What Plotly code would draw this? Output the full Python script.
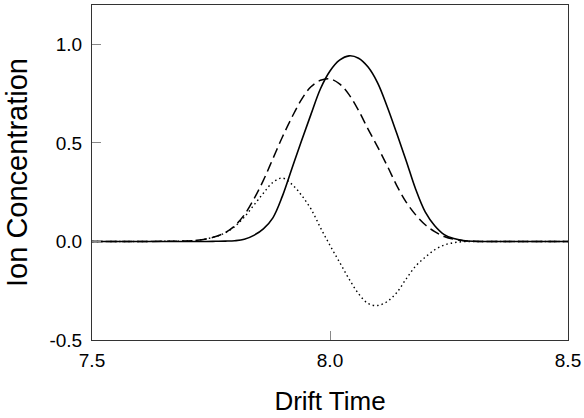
import plotly.graph_objects as go

drift_time = [7.50, 7.60, 7.66, 7.70, 7.72, 7.74, 7.76, 7.78, 7.80, 7.82, 7.84, 7.86, 7.88,
              7.90, 7.92, 7.94, 7.96, 7.98, 8.00, 8.02, 8.04, 8.06, 8.08, 8.10, 8.12, 8.14,
              8.16, 8.18, 8.20, 8.22, 8.24, 8.26, 8.28, 8.30, 8.34, 8.40, 8.50]

solid_conc = [0, 0, 0, 0, 0, 0, 0.001, 0.002, 0.004, 0.011, 0.031, 0.064, 0.12,
              0.23, 0.37, 0.51, 0.645, 0.775, 0.865, 0.92, 0.942, 0.93, 0.885, 0.805, 0.685, 0.55,
              0.41, 0.265, 0.15, 0.08, 0.035, 0.015, 0.005, 0.001, 0, 0, 0]

dashed_conc = [0, 0, 0.001, 0.003, 0.006, 0.013, 0.025, 0.045, 0.08, 0.135, 0.215, 0.31, 0.42,
               0.53, 0.63, 0.72, 0.785, 0.818, 0.825, 0.80, 0.745, 0.665, 0.57, 0.48, 0.385, 0.285,
               0.2, 0.135, 0.085, 0.05, 0.025, 0.011, 0.004, 0.001, 0, 0, 0]

dotted_conc = [0, 0, 0.001, 0.003, 0.006, 0.013, 0.025, 0.044, 0.076, 0.124, 0.184, 0.245, 0.30,
               0.322, 0.29, 0.235, 0.165, 0.07, -0.02, -0.105, -0.19, -0.265, -0.315, -0.325, -0.305, -0.26,
               -0.19, -0.125, -0.08, -0.042, -0.018, -0.006, -0.001, 0, 0, 0, 0]

x_ticks = [7.5, 8.0, 8.5]
x_tick_labels = ["7.5", "8.0", "8.5"]
y_ticks = [-0.5, 0.0, 0.5, 1.0]
y_tick_labels = ["-0.5", "0.0", "0.5", "1.0"]

fig = go.Figure()
fig.add_trace(go.Scatter(x=drift_time, y=dotted_conc, mode="lines", line_shape="spline",
                         line=dict(color="black", width=1.4, dash="1.5px,3px"), showlegend=False))
fig.add_trace(go.Scatter(x=drift_time, y=dashed_conc, mode="lines", line_shape="spline",
                         line=dict(color="black", width=1.5, dash="10px,5px"), showlegend=False))
fig.add_trace(go.Scatter(x=drift_time, y=solid_conc, mode="lines", line_shape="spline",
                         line=dict(color="black", width=1.6), showlegend=False))

font_family = "Liberation Sans, Arial, Helvetica, sans-serif"
fig.update_layout(
    width=584, height=418,
    margin=dict(l=92, r=16, t=5, b=78, autoexpand=False),
    paper_bgcolor="white", plot_bgcolor="white",
    font=dict(family=font_family, color="black", size=19),
    xaxis=dict(range=[7.5, 8.5], tickvals=x_ticks, ticktext=x_tick_labels,
               ticks="inside", ticklen=9, tickcolor="#888888", tickwidth=1,
               showline=True, linecolor="#333333", linewidth=1, mirror=True,
               showgrid=False, zeroline=False, ticklabelstandoff=3,
               title=dict(text="Drift Time", font=dict(size=26), standoff=22)),
    yaxis=dict(range=[-0.5, 1.2], tickvals=y_ticks, ticktext=y_tick_labels,
               ticks="inside", ticklen=9, tickcolor="#888888", tickwidth=1,
               showline=True, linecolor="#333333", linewidth=1, mirror=True,
               showgrid=False, zeroline=False, ticklabelstandoff=5,
               title=dict(text="Ion Concentration", font=dict(size=29), standoff=13)),
)

fig.write_html("out.html", config={"displayModeBar": False},
               post_script="document.body.style.margin='0px';")
